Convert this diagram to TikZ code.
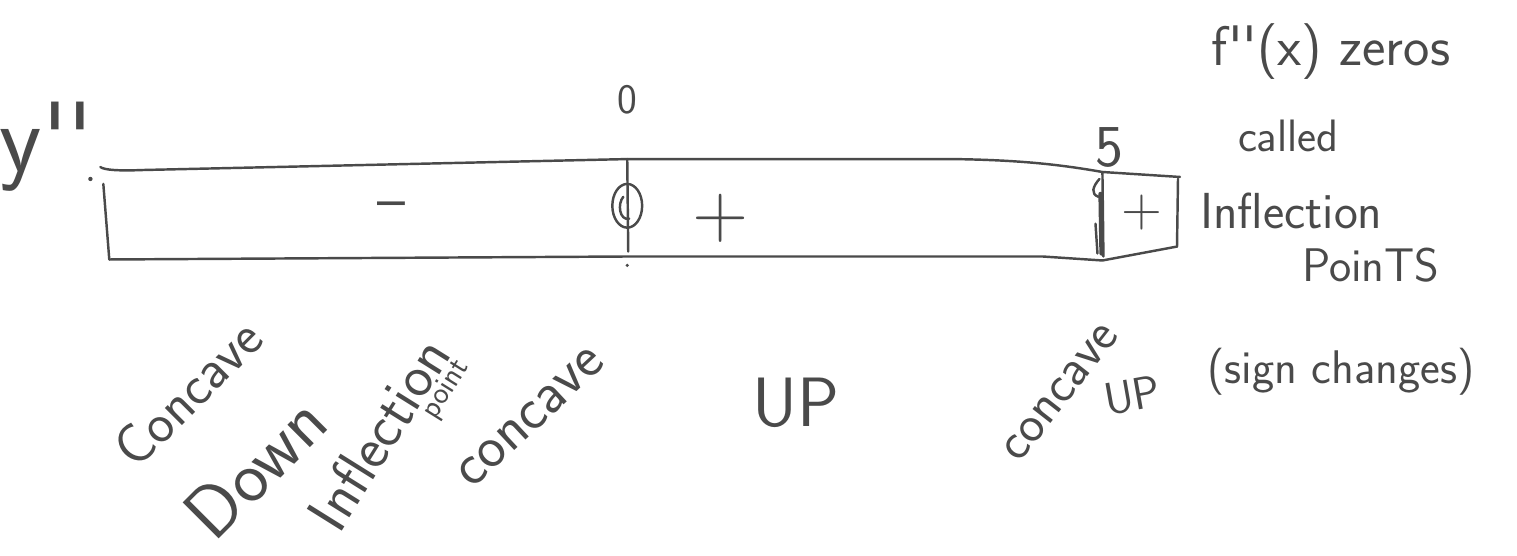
\documentclass[tikz,border=0pt]{standalone}
\usepackage{fontspec}
\begin{document}
\definecolor{ink}{HTML}{4A4A4A}
\tikzset{
  hand/.style={text=ink, font=\sffamily, inner sep=0pt},
  pen/.style={draw=ink, line width=1.4pt, line cap=round, line join=round},
}
\newcommand{\fs}[1]{\fontsize{#1}{#1}\selectfont}
\begin{tikzpicture}[x=0.02cm,y=-0.02cm]
\path[fill=white] (0,0) rectangle (1517,559);
% frame of the sign chart
\coordinate (TL) at (92,168);
\coordinate (TM) at (622,160);
\coordinate (TR) at (1100,173);
\coordinate (TRR) at (1178,178);
\coordinate (BL) at (101,261);
\coordinate (BM) at (622,258);
\coordinate (BR) at (1100,262);
\coordinate (BRR) at (1175,248);
\draw[pen] (TL) .. controls (96,171) and (110,172) .. (135,171) -- (TM) -- (950,160) .. controls (1020,161) and (1060,166) .. (TR) -- (TRR);
\draw[pen] (BL) -- (BM) -- (1040,258) -- (BR) -- (BRR);
\draw[pen] (95,185) -- (BL);
\draw[pen] (TM) -- (623,253);
\draw[pen] (1100,174) -- (1101,258);
\draw[pen,line width=2.4pt] (1098,195) -- (1099,255);
\draw[pen] (1093,225) -- (1095,255);
\draw[pen] (1097,180) .. controls (1090,188) and (1088,195) .. (1096,198);
\draw[pen] (1176,180) -- (BRR);
\draw[pen] (622,207) ellipse [x radius=15, y radius=22];
\draw[pen] (618,198) .. controls (612,205) and (614,222) .. (624,220);
\fill[ink] (82,180) circle (2.2);
\fill[ink] (622,267) circle (1.8);
% signs and values
\node[hand, font=\sffamily\fs{34}] (m) at (385,212) {\textendash};
\node[hand, font=\sffamily\fs{44}] (p1) at (716,220) {+};
\node[hand, font=\sffamily\fs{32}] (p2) at (1140,214) {+};
\node[hand, font=\sffamily\fs{24}] (z0) at (622,100) {0};
\node[hand, font=\sffamily\fs{34}] (z5) at (1107,148) {5};
\node[hand, font=\sffamily\fs{56}] (yy) at (38,148) {y\textquotesingle\textquotesingle};
% right notes
\node[hand, font=\sffamily\fs{32}] (fz) at (1330,52) {f\textquotesingle\textquotesingle(x) zeros};
\node[hand, font=\sffamily\fs{26}] (cl) at (1287,137) {called};
\node[hand, font=\sffamily\fs{29}] (inf) at (1290,212) {Inflection};
\node[hand, font=\sffamily\fs{27}] (pts) at (1370,267) {PoinTS};
\node[hand, font=\sffamily\fs{27}] (sc) at (1340,374) {(sign changes)};
% slanted labels
\node[hand, font=\sffamily\fs{32}, rotate=45] (cd1) at (180,395) {Concave};
\node[hand, font=\sffamily\fs{42}, rotate=45] (cd2) at (248,470) {Down};
\node[hand, font=\sffamily\fs{34}, rotate=58] (ip1) at (372,436) {Inflection};
\node[hand, font=\sffamily\fs{18}, rotate=58] (ip2) at (440,392) {point};
\node[hand, font=\sffamily\fs{34}, rotate=43] (cu1) at (525,420) {concave};
\node[hand, font=\sffamily\fs{40}] (cu2) at (792,405) {UP};
\node[hand, font=\sffamily\fs{30}, rotate=52] (cu3) at (1058,395) {concave};
\node[hand, font=\sffamily\fs{26}, rotate=10] (cu4) at (1130,398) {UP};
\end{tikzpicture}
\end{document}
